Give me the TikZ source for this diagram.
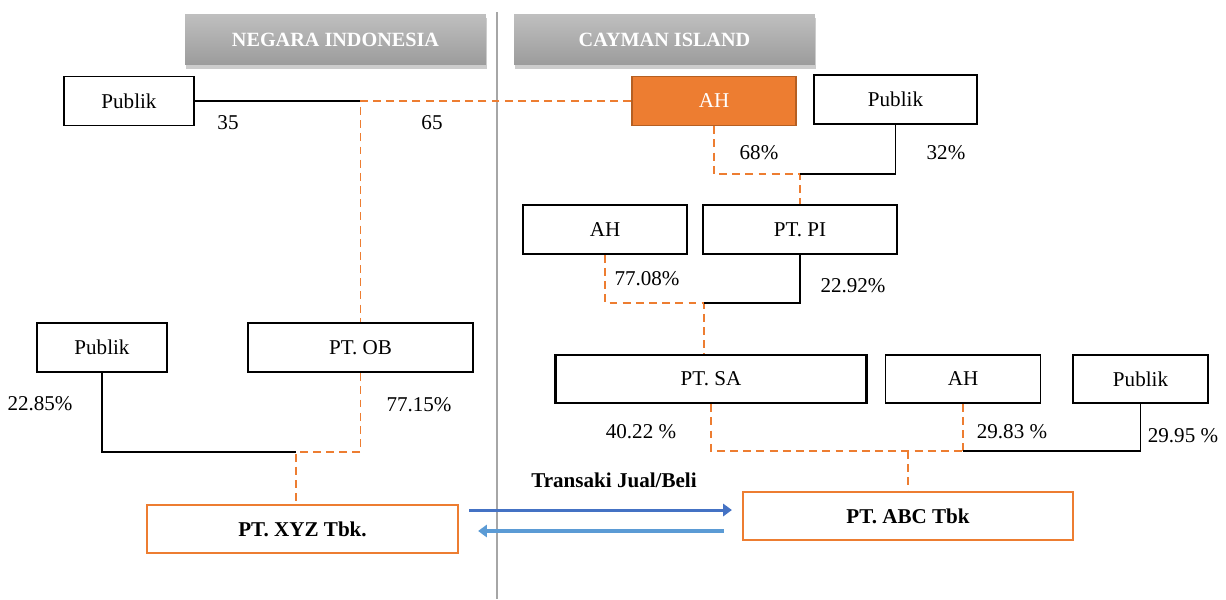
\documentclass[tikz,border=0pt]{standalone}
\usepackage{fontspec}
\setmainfont{Liberation Serif}
\usetikzlibrary{calc,shadows,arrows.meta}
\definecolor{orgline}{HTML}{ED7D31}
\definecolor{orgdark}{HTML}{B55F22}
\definecolor{blueA}{HTML}{4472C4}
\definecolor{blueB}{HTML}{5B9BD5}
\definecolor{sepgray}{HTML}{A6A6A6}

\begin{document}
\begin{tikzpicture}[x=0.02cm,y=-0.02cm,
    box/.style={draw,line width=0.9pt,inner sep=0pt,minimum height=0.98cm,font=\fontsize{12}{14}\selectfont},
    thickbox/.style={box,line width=1.4pt},
    orgbox/.style={box,draw=orgline,line width=1.3pt,font=\fontsize{12}{14}\selectfont\bfseries},
    hdr/.style={inner sep=0pt,minimum width=6.02cm,minimum height=1.02cm,top color=gray!50,bottom color=gray!78,
      drop shadow={opacity=0.4,shadow xshift=0.8pt,shadow yshift=-2pt},text=white,font=\fontsize{11.5}{13}\selectfont\bfseries},
    own/.style={line width=0.6pt},
    ctrl/.style={orgline,line width=0.9pt,dash pattern=on 4.5pt off 3pt},
    pct/.style={inner sep=0pt,font=\fontsize{12}{14}\selectfont}]
    \useasboundingbox (0,0) rectangle (1226,599);
    % border line between the two countries
    \coordinate (sepT) at (497,12);
    \coordinate (sepB) at (497,599);
    \draw[sepgray,line width=1.5pt] (sepT) -- (sepB);
    \node[hdr] (hdrid) at (335.5,39.5) {NEGARA INDONESIA};
    \node[hdr] (hdrky) at (664.5,39.5) {CAYMAN ISLAND};
    % owners
    \node[box,minimum width=2.6cm] (pub1) at (129,101) {Publik};
    \node[box,fill=orgline,draw=orgdark,text=white,minimum width=3.28cm] (ah1) at (714,101) {AH};
    \node[box,minimum width=3.26cm] (pub2) at (895.5,99.5) {Publik};
    \node[box,minimum width=3.28cm] (ah2) at (605,229.5) {AH};
    \node[thickbox,minimum width=3.88cm] (pi) at (800,229.5) {PT. PI};
    \node[box,minimum width=2.6cm] (pub3) at (102,347.5) {Publik};
    \node[thickbox,minimum width=4.5cm] (ob) at (360.5,347.5) {PT. OB};
    \node[thickbox,minimum width=6.22cm,minimum height=0.96cm] (sa) at (711,379) {PT. SA};
    \node[box,minimum width=3.1cm,minimum height=0.96cm] (ah3) at (963,379) {AH};
    \node[box,minimum width=2.7cm,minimum height=0.96cm] (pub4) at (1140.5,379) {Publik};
    \node[orgbox,minimum width=6.22cm,minimum height=0.96cm] (xyz) at (302.5,529) {PT. XYZ Tbk.};
    \node[orgbox,minimum width=6.6cm,minimum height=0.96cm] (abc) at (908,516) {PT. ABC Tbk};
    % junctions
    \coordinate (j1) at (ob.north |- ah1.west);
    \coordinate (j2) at (pi.north |- 0,174);
    \coordinate (j3) at (704,303);
    \coordinate (j4) at (296,452);
    \coordinate (j5) at (ah3.south |- 0,451);
    \draw[own] (pub1.east) -- (j1);
    \draw[ctrl] (ah1.west) -- (j1) -- (ob.north);
    \draw[ctrl] (ah1.south) |- (j2) -- (pi.north);
    \draw[own] (pub2.south) |- (j2);
    \draw[ctrl] (ah2.south) |- (j3) -- (j3 |- sa.north);
    \draw[own] (pi.south) |- (j3);
    \draw[own] (pub3.south) |- (j4);
    \draw[ctrl] (ob.south) |- (j4) -- (j4 |- xyz.north);
    \draw[ctrl] (sa.south) |- (j5);
    \draw[ctrl] (ah3.south) -- (j5);
    \draw[own] (pub4.south) |- (j5);
    \draw[ctrl] (abc.north |- j5) -- (abc.north);
    % shares
    \foreach \x/\y/\t [count=\i] in {228/123/35,432/123/65,759/153/68\%,946/153/32\%,647/279/77.08\%,853/286/22.92\%,
        40/404/22.85\%,419/405/77.15\%,641/432/40.22 \%,1012/432/29.83 \%,1183/436/29.95 \%}
      {\node[pct] (pct\i) at (\x,\y) {\t};}
    % trade
    \node[font=\fontsize{12}{14}\selectfont\bfseries] (trx) at (614,480) {Transaki Jual/Beli};
    \draw[blueA,line width=1.7pt,-{Triangle[length=5pt,width=7pt]}] ($(xyz.east)+(10,-19)$) -- ($(abc.west)+(-10,-6)$);
    \draw[blueB,line width=1.8pt,-{Triangle[length=5pt,width=7pt]}] ($(abc.west)+(-18,15)$) -- ($(xyz.east)+(19,2)$);
\end{tikzpicture}
\end{document}
